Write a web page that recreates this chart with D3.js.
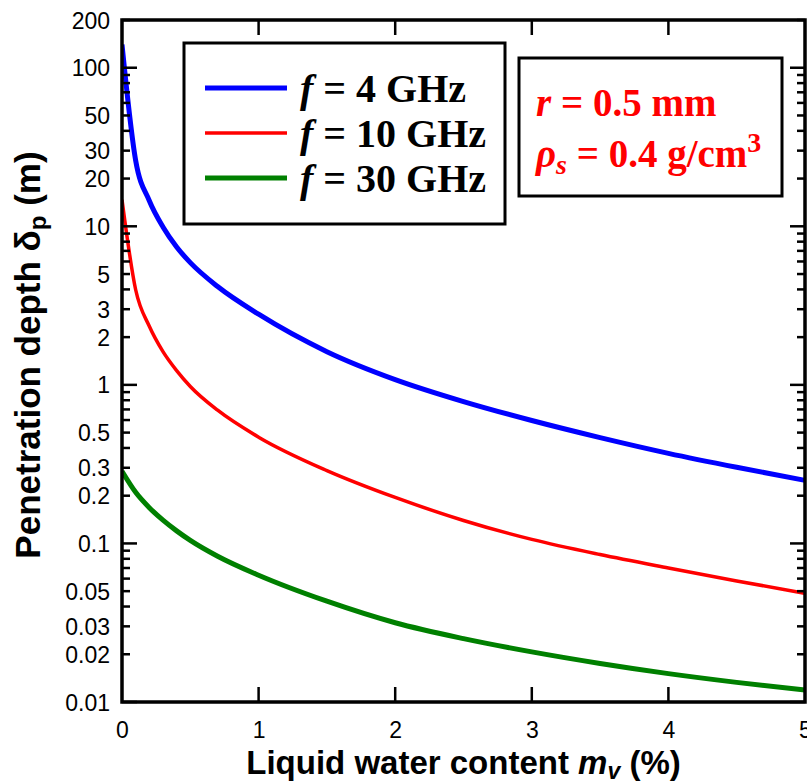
<!DOCTYPE html>
<html>
<head>
<meta charset="utf-8">
<script src="https://cdn.jsdelivr.net/npm/d3@7"></script>
<style>
  html, body { margin: 0; padding: 0; background: #fff; }
  svg { display: block; }
</style>
</head>
<body>
<svg id="chart" width="807" height="784"></svg>
<script>
// Liquid water content (%) at which each curve is sampled
const waterContent = [0, 0.1, 0.2, 0.3, 0.4, 0.5, 0.7, 1.0, 1.5, 2.0, 2.5, 3.0, 3.5, 4.0, 4.5, 5.0];

// Penetration depth (m) for each frequency
const depth4GHz  = [140, 26, 14.5, 9.9, 7.4, 5.9, 4.17, 2.79, 1.62, 1.08, 0.785, 0.596, 0.465, 0.37, 0.302, 0.25];
const depth10GHz = [14.7, 3.98, 2.34, 1.62, 1.23, 0.977, 0.692, 0.468, 0.288, 0.195, 0.1396, 0.106, 0.0851, 0.070, 0.058, 0.0485];
const depth30GHz = [0.285, 0.21, 0.168, 0.1403, 0.120, 0.1045, 0.083, 0.063, 0.0432, 0.0316, 0.0251, 0.0207, 0.0175, 0.0151, 0.0133, 0.0119];

const seriesNames  = ["4 GHz", "10 GHz", "30 GHz"];
const seriesColors = ["#0000ff", "#ff0000", "#008000"];
const seriesWidths = [5, 3.5, 5];

const xTickValues = [0, 1, 2, 3, 4, 5];
const yTickValues = [200, 100, 50, 30, 20, 10, 5, 3, 2, 1, 0.5, 0.3, 0.2, 0.1, 0.05, 0.03, 0.02, 0.01];
const yTickLabels = ["200", "100", "50", "30", "20", "10", "5", "3", "2", "1", "0.5", "0.3", "0.2", "0.1", "0.05", "0.03", "0.02", "0.01"];

const svg = d3.select("#chart");
const margin = { left: 122, top: 20, right: 2, bottom: 82 };
const W = 807, H = 784;
const x0 = margin.left, x1 = W - margin.right, y0 = margin.top, y1 = H - margin.bottom;

const x = d3.scaleLinear().domain([0, 5]).range([x0, x1]);
const y = d3.scaleLog().domain([0.01, 200]).range([y1, y0]);

const sans = "'Liberation Sans', Arial, sans-serif";
const serif = "'Liberation Serif', 'Times New Roman', serif";

const series = [depth4GHz, depth10GHz, depth30GHz].map((vals, i) => ({
  name: seriesNames[i], color: seriesColors[i], width: seriesWidths[i],
  points: waterContent.map((m, j) => [m, vals[j]])
}));

// Curves, clipped to the plot area
svg.append("clipPath").attr("id", "plotClip")
  .append("rect").attr("x", x0).attr("y", y0).attr("width", x1 - x0).attr("height", y1 - y0);

const line = d3.line().x(d => x(d[0])).y(d => y(d[1])).curve(d3.curveMonotoneX);
svg.append("g").attr("clip-path", "url(#plotClip)")
  .selectAll("path").data(series).join("path")
  .attr("d", d => line(d.points))
  .attr("fill", "none")
  .attr("stroke", d => d.color)
  .attr("stroke-width", d => d.width)
  .attr("stroke-linejoin", "round");

// Y tick marks (inward on left and right), long at decades
const minorVals = [];
for (let e = -2; e <= 2; e++) {
  for (let k = 1; k <= 9; k++) {
    const v = k * Math.pow(10, e);
    if (v >= 0.01 && v <= 200) minorVals.push({ v, major: k === 1 });
  }
}
const tickG = svg.append("g").attr("stroke", "#000").attr("stroke-width", 2.5);
minorVals.forEach(t => {
  const len = t.major ? 15 : 8;
  const yy = y(t.v);
  tickG.append("line").attr("x1", x0).attr("x2", x0 + len).attr("y1", yy).attr("y2", yy);
  tickG.append("line").attr("x1", x1).attr("x2", x1 - len).attr("y1", yy).attr("y2", yy);
});
// X tick marks, inward on bottom and top
xTickValues.slice(1, -1).forEach(v => {
  tickG.append("line").attr("x1", x(v)).attr("x2", x(v)).attr("y1", y1).attr("y2", y1 - 15);
  tickG.append("line").attr("x1", x(v)).attr("x2", x(v)).attr("y1", y0).attr("y2", y0 + 15);
});

// Axis labels via d3 axes (tick lines drawn above)
const yAxis = d3.axisLeft(y).tickValues(yTickValues)
  .tickFormat((d, i) => yTickLabels[i]).tickSize(0).tickPadding(12);
const gy = svg.append("g").attr("transform", `translate(${x0},0)`).call(yAxis);
gy.select(".domain").remove();
gy.selectAll("text").attr("font-family", sans).attr("font-size", 23).attr("fill", "#000").attr("dy", "0.35em");

const xAxis = d3.axisBottom(x).tickValues(xTickValues).tickFormat(d3.format("d")).tickSize(0).tickPadding(20);
const gx = svg.append("g").attr("transform", `translate(0,${y1})`).call(xAxis);
gx.select(".domain").remove();
gx.selectAll("text").attr("font-family", sans).attr("font-size", 23).attr("fill", "#000");

// Plot frame
svg.append("rect").attr("x", x0).attr("y", y0).attr("width", x1 - x0).attr("height", y1 - y0)
  .attr("fill", "none").attr("stroke", "#000").attr("stroke-width", 3.5);

// Axis titles
const xt = svg.append("text").attr("x", (x0 + x1) / 2).attr("y", 774)
  .attr("text-anchor", "middle").attr("font-family", sans).attr("font-weight", "bold")
  .attr("font-size", 33).attr("fill", "#000");
xt.append("tspan").text("Liquid water content ");
xt.append("tspan").attr("font-style", "italic").text("m");
xt.append("tspan").attr("font-style", "italic").attr("font-size", 23).attr("dy", 5).text("v");
xt.append("tspan").attr("dy", -5).text(" (%)");

const yt = svg.append("text").attr("transform", `translate(40,${(y0 + y1) / 2 - 6}) rotate(-90)`)
  .attr("text-anchor", "middle").attr("font-family", sans).attr("font-weight", "bold")
  .attr("font-size", 35).attr("fill", "#000");
yt.append("tspan").text("Penetration depth δ");
yt.append("tspan").attr("font-size", 24).attr("dy", 6).text("p");
yt.append("tspan").attr("dy", -6).text(" (m)");

// Legend
const legend = svg.append("g");
legend.append("rect").attr("x", 184).attr("y", 43).attr("width", 321).attr("height", 181)
  .attr("fill", "#fff").attr("stroke", "#000").attr("stroke-width", 3);
series.forEach((s, i) => {
  const ly = 88 + i * 45;
  legend.append("line").attr("x1", 205).attr("x2", 287).attr("y1", ly).attr("y2", ly)
    .attr("stroke", s.color).attr("stroke-width", s.width);
  const t = legend.append("text").attr("x", 300).attr("y", ly + 14)
    .attr("font-family", serif).attr("font-weight", "bold").attr("font-size", 40).attr("fill", "#000");
  t.append("tspan").attr("font-style", "italic").text("f");
  t.append("tspan").text(" = " + s.name);
});

// Parameter box
const note = svg.append("g");
note.append("rect").attr("x", 519).attr("y", 58).attr("width", 263).attr("height", 138)
  .attr("fill", "#fff").attr("stroke", "#000").attr("stroke-width", 3);
const n1 = note.append("text").attr("x", 536).attr("y", 116)
  .attr("font-family", serif).attr("font-weight", "bold").attr("font-size", 39).attr("fill", "#ff0000");
n1.append("tspan").attr("font-style", "italic").text("r");
n1.append("tspan").text(" = 0.5 mm");
const n2 = note.append("text").attr("x", 536).attr("y", 167)
  .attr("font-family", serif).attr("font-weight", "bold").attr("font-size", 39).attr("fill", "#ff0000");
n2.append("tspan").attr("font-style", "italic").text("ρ");
n2.append("tspan").attr("font-style", "italic").attr("font-size", 28).attr("dy", 7).text("s");
n2.append("tspan").attr("dy", -7).text(" = 0.4 g/cm");
n2.append("tspan").attr("font-size", 28).attr("dy", -15).text("3");
</script>
</body>
</html>
